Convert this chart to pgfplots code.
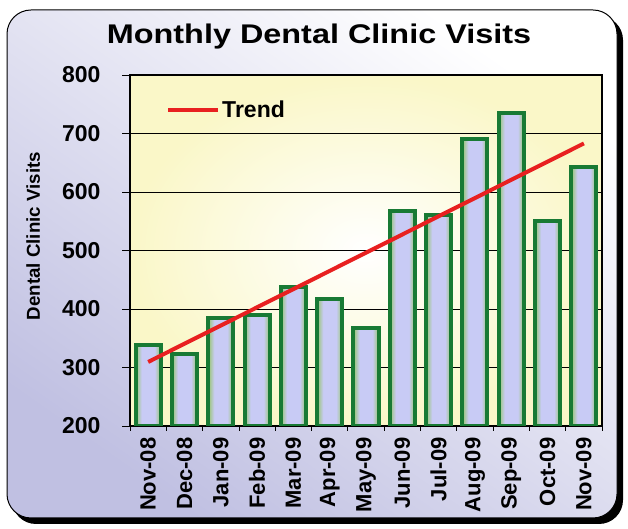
\documentclass[border=0pt]{standalone}
\usepackage{fontspec}
\setmainfont{Liberation Sans}
\usepackage{pgfplots}
\pgfplotsset{compat=1.18}

\definecolor{lav}{RGB}{192,192,226}
\definecolor{plotY}{RGB}{250,247,200}
\definecolor{barG}{RGB}{150,198,110}
\definecolor{barL}{RGB}{200,203,245}
\definecolor{barD}{RGB}{24,122,52}
\definecolor{trendR}{RGB}{232,32,32}

% green at the edges, lavender in the middle (path maps to 25bp..75bp)
\pgfdeclarehorizontalshading{barshade}{100bp}{color(0bp)=(barG); color(25bp)=(barG);
  color(37bp)=(barL); color(63bp)=(barL); color(75bp)=(barG); color(100bp)=(barG)}

\newcommand{\fs}[1]{\fontsize{#1}{#1}\selectfont\bfseries}
\pgfplotsset{mybar/.style={ybar, bar width=0.69, bar shift=0pt, draw=barD, line width=4pt,
  shading=barshade, forget plot}}

\begin{document}
\begin{tikzpicture}
\useasboundingbox (0pt,0pt) rectangle (628pt,529pt);
% frame with shadow
\fill[black, rounded corners=24pt] (12pt,5pt) rectangle (623pt,513pt);
\shade[top color=white, bottom color=lav, shading angle=-35, rounded corners=24pt]
  (7pt,11pt) rectangle (617pt,519pt);
\draw[black, line width=1pt, rounded corners=24pt] (7pt,11pt) rectangle (617pt,519pt);

\node[anchor=base, inner sep=0pt] at (319pt,485.7pt)
  {\scalebox{1.2}[1]{\fs{27}Monthly Dental Clinic Visits}};

\begin{axis}[
    at={(130pt,103pt)}, anchor=south west,
    scale only axis, width=472pt, height=351pt,
    xmin=-0.5, xmax=12.5, ymin=200, ymax=800,
    ytick={200,300,...,800},
    xtick={0,...,12},
    xticklabels={Nov-08,Dec-08,Jan-09,Feb-09,Mar-09,Apr-09,May-09,Jun-09,Jul-09,Aug-09,Sep-09,Oct-09,Nov-09},
    minor xtick={-0.5,0.5,...,12.5},
    major x tick style={draw=none},
    tick align=outside, xtick pos=left, ytick pos=left,
    major tick length=8pt, minor tick length=5pt,
    tick style={black, line width=0.8pt},
    ymajorgrids, grid style={black, line width=0.8pt},
    axis line style={black, line width=1.5pt},
    axis background/.style={inner color=white, outer color=plotY},
    /pgf/number format/assume math mode=true,
    yticklabel style={font=\fs{23}, xshift=-18pt},
    xticklabel style={font=\fs{22}, rotate=90, anchor=east},
    ylabel={Dental Clinic Visits},
    every axis y label/.style={at={(axis description cs:-0.205,0.541)}, rotate=90,
      anchor=center, font=\fs{18.7}},
    legend style={at={(axis description cs:0.07,0.90)}, anchor=west, draw=none, fill=none,
      font=\fs{23}},
    legend image code/.code={\draw (0pt,0pt) -- (50pt,0pt);},
]
\addplot[mybar] coordinates {(0,338)};
\addplot[mybar] coordinates {(1,323)};
\addplot[mybar] coordinates {(2,385)};
\addplot[mybar] coordinates {(3,389)};
\addplot[mybar] coordinates {(4,437)};
\addplot[mybar] coordinates {(5,417)};
\addplot[mybar] coordinates {(6,368)};
\addplot[mybar] coordinates {(7,567)};
\addplot[mybar] coordinates {(8,560)};
\addplot[mybar] coordinates {(9,690)};
\addplot[mybar] coordinates {(10,735)};
\addplot[mybar] coordinates {(11,550)};
\addplot[mybar] coordinates {(12,642)};
\addplot[trendR, line width=4pt] coordinates {(0,309.5) (12,683)};
\addlegendentry{Trend}
\end{axis}
\end{tikzpicture}
\end{document}
